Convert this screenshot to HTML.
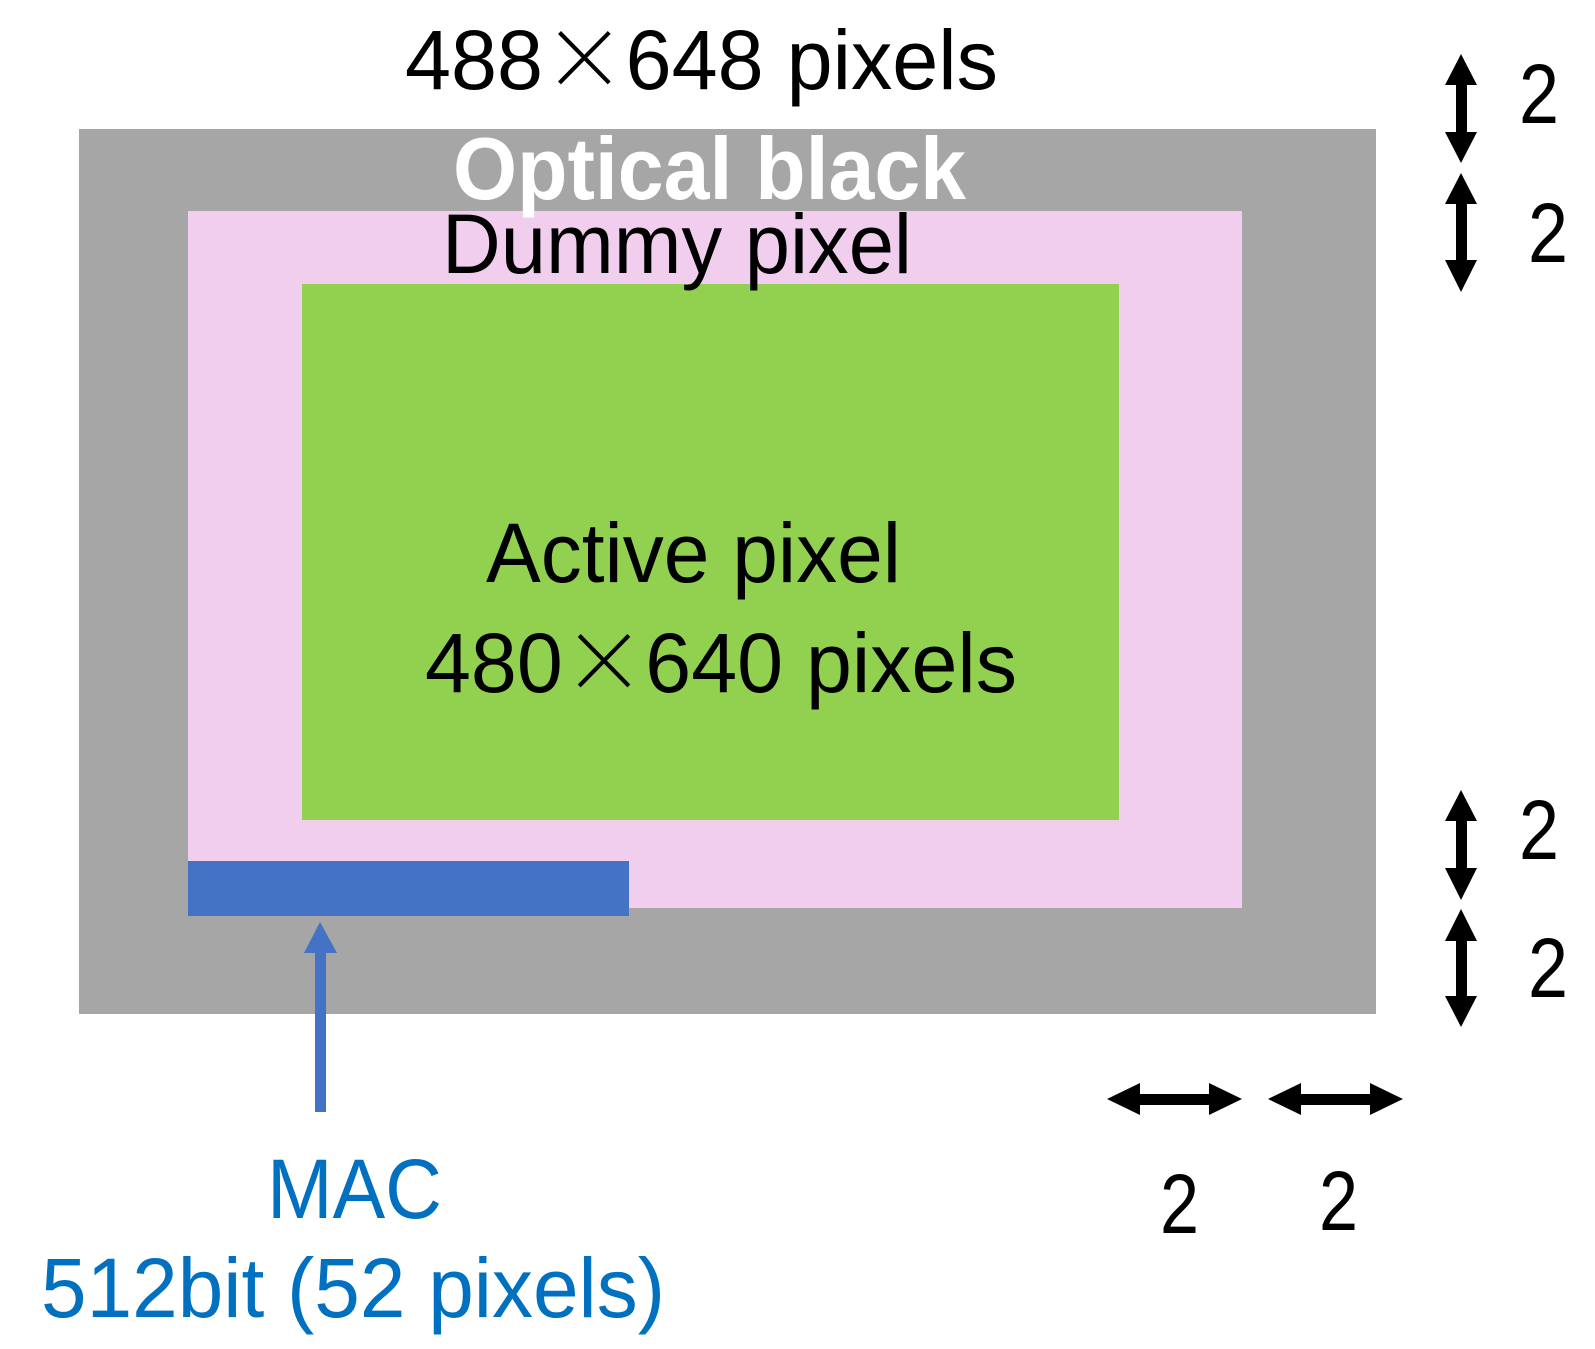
<!DOCTYPE html>
<html><head><meta charset="utf-8"><style>
html,body{margin:0;padding:0;background:#fff;}
svg{display:block;}
text{font-family:"Liberation Sans","Noto Sans CJK JP",sans-serif;font-size:84px;}
.x{font-family:"Noto Sans CJK JP",sans-serif;font-weight:300;}
</style></head><body>
<svg width="1595" height="1349" viewBox="0 0 1595 1349" xmlns="http://www.w3.org/2000/svg">
<rect x="79" y="129" width="1297" height="885" fill="#a6a6a6"/>
<rect x="188" y="211" width="1054" height="697" fill="#f2ceee"/>
<rect x="302" y="284" width="817" height="536" fill="#92d050"/>
<rect x="188" y="861" width="441" height="55" fill="#4472c4"/>
<rect x="315" y="952" width="11" height="160" fill="#4472c4"/>
<polygon points="320,922 304,953 337,953" fill="#4472c4"/>
<text x="405" y="89" textLength="593" lengthAdjust="spacingAndGlyphs">488<tspan class="x">×</tspan>648 pixels</text>
<text x="453" y="199" textLength="513" lengthAdjust="spacingAndGlyphs" font-weight="bold" fill="#fff" style="font-size:88px">Optical black</text>
<text x="442" y="273" textLength="470" lengthAdjust="spacingAndGlyphs">Dummy pixel</text>
<text x="486" y="582" textLength="415" lengthAdjust="spacingAndGlyphs">Active pixel</text>
<text x="425" y="692" textLength="592" lengthAdjust="spacingAndGlyphs">480<tspan class="x">×</tspan>640 pixels</text>
<text x="267" y="1218" textLength="175" lengthAdjust="spacingAndGlyphs" fill="#0070c0">MAC</text>
<text x="41" y="1317" textLength="624" lengthAdjust="spacingAndGlyphs" fill="#0070c0">512bit (52 pixels)</text>
<text x="1519" y="123" textLength="40" lengthAdjust="spacingAndGlyphs">2</text>
<text x="1528" y="262" textLength="40" lengthAdjust="spacingAndGlyphs">2</text>
<text x="1519" y="859" textLength="40" lengthAdjust="spacingAndGlyphs">2</text>
<text x="1528" y="997" textLength="40" lengthAdjust="spacingAndGlyphs">2</text>
<text x="1160" y="1233" textLength="39" lengthAdjust="spacingAndGlyphs">2</text>
<text x="1319" y="1230" textLength="39" lengthAdjust="spacingAndGlyphs">2</text>
<g fill="#000">
<rect x="1456" y="84" width="11" height="50"/>
<polygon points="1461,54 1445,85 1477,85"/><polygon points="1461,163 1445,132 1477,132"/>
<rect x="1456" y="203" width="11" height="58"/>
<polygon points="1461,173 1445,204 1477,204"/><polygon points="1461,292 1445,260 1477,260"/>
<rect x="1456" y="820" width="11" height="49"/>
<polygon points="1461,790 1445,821 1477,821"/><polygon points="1461,900 1445,868 1477,868"/>
<rect x="1456" y="940" width="11" height="57"/>
<polygon points="1461,909 1445,941 1477,941"/><polygon points="1461,1027 1445,996 1477,996"/>
<rect x="1139" y="1094" width="71" height="11"/>
<polygon points="1107,1099 1140,1083 1140,1115"/><polygon points="1242,1099 1209,1083 1209,1115"/>
<rect x="1300" y="1094" width="71" height="11"/>
<polygon points="1268,1099 1301,1083 1301,1115"/><polygon points="1403,1099 1370,1083 1370,1115"/>
</g>
</svg>
</body></html>
